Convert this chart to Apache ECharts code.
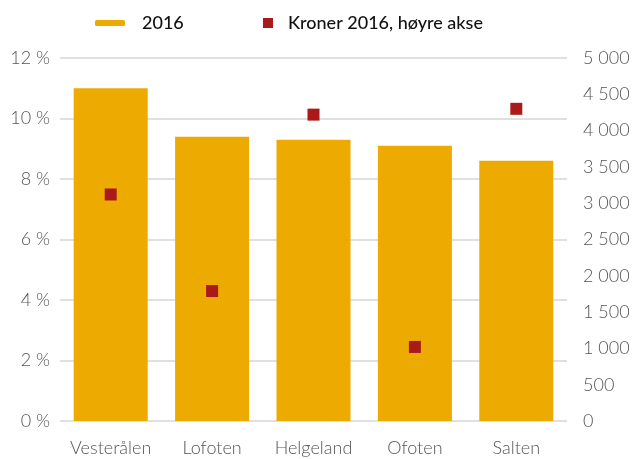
<!DOCTYPE html>
<html>
<head>
<meta charset="utf-8">
<script src="https://cdn.jsdelivr.net/npm/echarts@6/dist/echarts.min.js"></script>
<style>
  html, body { margin: 0; padding: 0; background: #fff; }
  #chart { width: 633px; height: 459px; }
</style>
</head>
<body>
<div id="chart"></div>
<script>
// Regions along the x axis
const regions = ['Vesterålen', 'Lofoten', 'Helgeland', 'Ofoten', 'Salten'];
// Share in percent (left axis)
const share2016 = [11.0, 9.4, 9.3, 9.1, 8.6];
// Kroner per region (right axis)
const kroner2016 = [3120, 1790, 4220, 1020, 4300];

const barName = '2016';
const pointName = 'Kroner 2016, høyre akse';

const FONT = 'Lato, "Open Sans", sans-serif';
const axisText = { color: '#555', fontSize: 18, fontFamily: FONT, fontWeight: 300 };
const legendText = { color: '#111', fontSize: 18, fontFamily: FONT, fontWeight: 500 };

function thousands(v) {
  return String(v).replace(/\B(?=(\d{3})+(?!\d))/g, ' ');
}

const chart = echarts.init(document.getElementById('chart'), null, { renderer: 'canvas' });
chart.setOption({
  animation: false,
  backgroundColor: '#fff',
  legend: [
    {
      data: [barName],
      left: 95, top: 14, padding: 0,
      icon: 'roundRect', itemWidth: 30, itemHeight: 6,
      textStyle: Object.assign({ padding: [0, 0, 0, 12] }, legendText)
    },
    {
      data: [pointName],
      left: 263, top: 14, padding: 0,
      icon: 'rect', itemWidth: 10, itemHeight: 10,
      textStyle: Object.assign({ padding: [0, 0, 0, 10] }, legendText)
    }
  ],
  grid: { left: 60, right: 66, top: 58, height: 363, containLabel: false },
  xAxis: {
    type: 'category',
    data: regions,
    axisLine: { show: false },
    axisTick: { show: false },
    axisLabel: Object.assign({ margin: 18, interval: 0 }, axisText)
  },
  yAxis: [
    {
      type: 'value', min: 0, max: 12, interval: 2,
      axisLine: { show: false }, axisTick: { show: false },
      axisLabel: Object.assign({ formatter: '{value} %', margin: 10 }, axisText),
      splitLine: { lineStyle: { color: '#e0e0e0', width: 2 } }
    },
    {
      type: 'value', min: 0, max: 5000, interval: 500,
      position: 'right',
      axisLine: { show: false }, axisTick: { show: false },
      axisLabel: Object.assign({ formatter: thousands, margin: 16 }, axisText),
      splitLine: { show: false }
    }
  ],
  series: [
    {
      name: barName, type: 'bar', data: share2016,
      yAxisIndex: 0, barCategoryGap: '27%',
      itemStyle: { color: '#EDAA00' }, z: 2
    },
    {
      name: pointName, type: 'scatter', data: kroner2016,
      yAxisIndex: 1, symbol: 'rect', symbolSize: 12,
      itemStyle: { color: '#AA1A19', opacity: 1 }, z: 3
    }
  ]
});
</script>
</body>
</html>
